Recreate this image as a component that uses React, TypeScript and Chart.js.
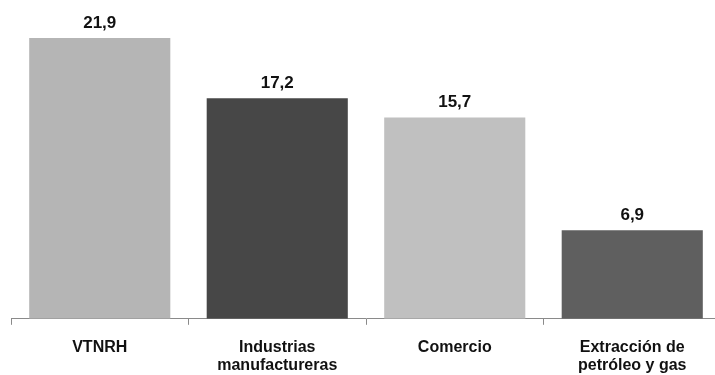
import React, { useEffect, useRef } from "react";
import { Chart, registerables } from "chart.js";

Chart.register(...registerables);

const categories: (string | string[])[] = [
  "VTNRH",
  ["Industrias", "manufactureras"],
  "Comercio",
  ["Extracción de", "petróleo y gas"],
];
const values: number[] = [21.9, 17.2, 15.7, 6.9];
const valueLabels: string[] = ["21,9", "17,2", "15,7", "6,9"];
const barColors: string[] = ["#b5b5b5", "#474747", "#c0c0c0", "#5f5f5f"];

const FONT = "'Liberation Sans', Arial, sans-serif";

const valueLabelPlugin = {
  id: "valueLabels",
  afterDatasetsDraw(chart: any) {
    const ctx = chart.ctx;
    const meta = chart.getDatasetMeta(0);
    ctx.save();
    ctx.font = `bold 17px ${FONT}`;
    ctx.fillStyle = "#111111";
    ctx.textAlign = "center";
    ctx.textBaseline = "alphabetic";
    meta.data.forEach((bar: any, i: number) => {
      ctx.fillText(valueLabels[i], bar.x, bar.y - 10);
    });
    ctx.restore();
  },
};

export default function App() {
  const ref = useRef<HTMLCanvasElement | null>(null);
  useEffect(() => {
    if (!ref.current) return;
    const chart = new Chart(ref.current, {
      type: "bar",
      data: {
        labels: categories,
        datasets: [
          {
            data: values,
            backgroundColor: barColors,
            borderWidth: 0,
            categoryPercentage: 1,
            barPercentage: 0.795,
          },
        ],
      },
      options: {
        animation: false,
        responsive: false,
        maintainAspectRatio: false,
        layout: { padding: { top: 11, left: 11, right: 0, bottom: 2 } },
        plugins: {
          legend: { display: false },
          tooltip: { enabled: false },
        },
        scales: {
          x: {
            grid: {
              offset: true,
              drawOnChartArea: false,
              drawTicks: true,
              tickLength: 6,
              color: "#8a8a8a",
            },
            border: { display: true, color: "#8a8a8a", width: 1 },
            ticks: {
              color: "#111111",
              font: { family: FONT, size: 16, weight: "bold", lineHeight: 1.1 },
              padding: 14,
              maxRotation: 0,
              autoSkip: false,
            },
          },
          y: {
            display: false,
            min: 0,
            max: 24,
          },
        },
      },
      plugins: [valueLabelPlugin],
    });
    return () => chart.destroy();
  }, []);
  return (
    <div
      style={{
        position: "fixed",
        left: 0,
        top: 0,
        width: 715,
        height: 375,
        overflow: "hidden",
        background: "#ffffff",
      }}
    >
      <canvas ref={ref} width={721} height={390} style={{ width: 721, height: 390, display: "block" }} />
    </div>
  );
}
